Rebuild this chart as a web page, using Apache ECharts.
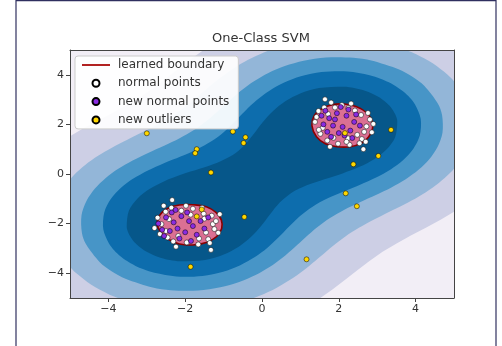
<!DOCTYPE html>
<html>
<head>
<meta charset="utf-8">
<script src="https://cdn.jsdelivr.net/npm/echarts@6/dist/echarts.min.js"></script>
<style>html,body{margin:0;padding:0;background:#fff;}#c{width:502px;height:346px;}</style>
</head>
<body>
<div id="c"></div>
<script>
// ---- data ----
const xTicks = [-4, -2, 0, 2, 4];
const yTicks = [-4, -2, 0, 2, 4];

// decision-function bands (outlines)
const cornerTopLeft = [[-5.369,1.126],[-5.028,1.493],[-4.662,1.834],[-4.279,2.157],[-3.888,2.474],[-3.505,2.799],[-3.140,3.140],[-2.799,3.505],[-2.474,3.888],[-2.157,4.279],[-1.834,4.662],[-1.493,5.028],[-1.126,5.369],[-6,6]];
const cornerBottomRight = [[5.369,-1.126],[5.028,-1.493],[4.662,-1.834],[4.279,-2.157],[3.888,-2.474],[3.505,-2.799],[3.140,-3.140],[2.799,-3.505],[2.474,-3.888],[2.157,-4.279],[1.834,-4.662],[1.493,-5.028],[1.126,-5.369],[6,-6]];
const bandC = [[4.455,4.455],[4.005,4.834],[3.800,4.968],[3.492,5.134],[3.244,5.241],[2.320,5.458],[1.617,5.454],[1.025,5.339],[0.508,5.149],[0.048,4.902],[-0.363,4.605],[-0.733,4.269],[-1.070,3.898],[-1.384,3.506],[-1.690,3.104],[-2.004,2.711],[-2.342,2.342],
 [-2.711,2.004],[-3.104,1.690],[-3.506,1.384],[-3.898,1.070],[-4.269,0.733],[-4.605,0.363],[-4.902,-0.048],[-5.149,-0.508],[-5.339,-1.025],[-5.454,-1.617],[-5.458,-2.320],[-5.241,-3.244],[-5.134,-3.492],[-4.968,-3.800],[-4.834,-4.005],[-4.455,-4.455],
 [-4.005,-4.834],[-3.800,-4.968],[-3.492,-5.134],[-3.244,-5.241],[-2.320,-5.458],[-1.617,-5.454],[-1.025,-5.339],[-0.508,-5.149],[-0.048,-4.902],[0.363,-4.605],[0.733,-4.269],[1.070,-3.898],[1.384,-3.506],[1.690,-3.104],[2.004,-2.711],[2.342,-2.342],
 [2.711,-2.004],[3.104,-1.690],[3.506,-1.384],[3.898,-1.070],[4.269,-0.733],[4.605,-0.363],[4.902,0.048],[5.149,0.508],[5.339,1.025],[5.454,1.617],[5.458,2.320],[5.241,3.244],[5.134,3.492],[4.968,3.800],[4.834,4.005]];
const bandD = [[3.918,3.918],[3.555,4.224],[2.846,4.578],[2.382,4.689],[1.664,4.700],[1.085,4.571],[0.594,4.356],[0.167,4.076],[-0.208,3.743],[-0.541,3.369],[-0.844,2.966],[-1.136,2.550],[-1.438,2.145],[-1.771,1.771],
 [-2.145,1.438],[-2.550,1.136],[-2.966,0.844],[-3.369,0.541],[-3.743,0.208],[-4.076,-0.167],[-4.356,-0.594],[-4.571,-1.085],[-4.700,-1.664],[-4.689,-2.382],[-4.578,-2.846],[-4.224,-3.555],[-3.918,-3.918],
 [-3.555,-4.224],[-2.846,-4.578],[-2.382,-4.689],[-1.664,-4.700],[-1.085,-4.571],[-0.594,-4.356],[-0.167,-4.076],[0.208,-3.743],[0.541,-3.369],[0.844,-2.966],[1.136,-2.550],[1.438,-2.145],[1.771,-1.771],
 [2.145,-1.438],[2.550,-1.136],[2.966,-0.844],[3.369,-0.541],[3.743,-0.208],[4.076,0.167],[4.356,0.594],[4.571,1.085],[4.700,1.664],[4.689,2.382],[4.578,2.846],[4.224,3.555]];
const bandE = [[3.513,3.513],[3.304,3.697],[3.084,3.845],[2.803,3.985],[2.231,4.133],[1.549,4.108],[1.012,3.938],[0.565,3.678],[0.185,3.350],[-0.142,2.971],[-0.433,2.554],[-0.706,2.120],[-0.991,1.698],[-1.317,1.317],
 [-1.698,0.991],[-2.120,0.706],[-2.554,0.433],[-2.971,0.142],[-3.350,-0.185],[-3.678,-0.565],[-3.938,-1.012],[-4.108,-1.549],[-4.133,-2.231],[-3.985,-2.803],[-3.845,-3.084],[-3.697,-3.304],[-3.513,-3.513],
 [-3.304,-3.697],[-3.084,-3.845],[-2.803,-3.985],[-2.231,-4.133],[-1.549,-4.108],[-1.012,-3.938],[-0.565,-3.678],[-0.185,-3.350],[0.142,-2.971],[0.433,-2.554],[0.706,-2.120],[0.991,-1.698],[1.317,-1.317],
 [1.698,-0.991],[2.120,-0.706],[2.554,-0.433],[2.971,-0.142],[3.350,0.185],[3.678,0.565],[3.938,1.012],[4.108,1.549],[4.133,2.231],[3.985,2.803],[3.845,3.084],[3.697,3.304]];
const bandF = [[3.074,3.074],[2.773,3.308],[2.623,3.387],[2.397,3.472],[2.134,3.523],[1.483,3.467],[0.996,3.247],[0.606,2.930],[0.289,2.540],[0.024,2.097],[-0.211,1.625],[-0.455,1.163],[-0.762,0.762],
 [-1.163,0.455],[-1.625,0.211],[-2.097,-0.024],[-2.540,-0.289],[-2.930,-0.606],[-3.247,-0.996],[-3.467,-1.483],[-3.523,-2.134],[-3.472,-2.397],[-3.387,-2.623],[-3.308,-2.773],[-3.074,-3.074],
 [-2.773,-3.308],[-2.623,-3.387],[-2.397,-3.472],[-2.134,-3.523],[-1.483,-3.467],[-0.996,-3.247],[-0.606,-2.930],[-0.289,-2.540],[-0.024,-2.097],[0.211,-1.625],[0.455,-1.163],[0.762,-0.762],
 [1.163,-0.455],[1.625,-0.211],[2.097,0.024],[2.540,0.289],[2.930,0.606],[3.247,0.996],[3.467,1.483],[3.523,2.134],[3.472,2.397],[3.387,2.623],[3.308,2.773]];

// learned boundary (two loops)
const boundaryUpper = [[1.30,1.95],[1.36,2.35],[1.55,2.62],[1.85,2.80],[2.15,2.82],[2.45,2.72],[2.70,2.50],[2.85,2.20],[2.88,1.85],[2.78,1.50],[2.60,1.25],[2.30,1.10],[1.95,1.10],[1.65,1.22],[1.42,1.50]];
const boundaryLower = [[-2.73,-2.00],[-2.66,-1.65],[-2.45,-1.38],[-2.15,-1.25],[-1.80,-1.24],[-1.45,-1.32],[-1.20,-1.55],[-1.06,-1.85],[-1.05,-2.20],[-1.18,-2.52],[-1.45,-2.76],[-1.80,-2.86],[-2.15,-2.82],[-2.45,-2.62],[-2.65,-2.32]];

// points
const normalPoints = [
 [1.64,3.01],[1.47,2.54],[2.81,2.20],[2.86,1.68],[2.64,1.00],[1.77,1.10],[2.60,1.41],[1.38,2.10],[1.52,1.62],[1.70,1.35],[1.98,1.22],[2.28,1.18],[2.48,1.58],[2.72,1.92],[2.58,2.38],[2.25,2.66],[1.90,2.68],[1.72,2.42],[2.24,1.44],[2.42,2.56],[1.58,1.86],[2.76,2.46],[1.86,1.46],[2.66,1.70],[1.48,1.78],[2.32,2.84],[2.54,1.24],[1.80,2.88],[2.70,1.30],[1.42,2.30],[2.90,2.02],[2.20,1.30],[1.62,2.68],[2.08,2.78],
 [-2.34,-1.05],[-2.51,-1.52],[-1.14,-2.37],[-1.33,-3.06],[-2.24,-2.93],[-2.31,-2.72],[-1.31,-1.68],[-1.40,-2.63],[-2.62,-2.02],[-2.42,-1.82],[-2.10,-1.48],[-1.80,-1.40],[-1.52,-1.60],[-1.28,-2.02],[-2.18,-2.50],[-2.50,-2.30],[-1.46,-2.36],[-1.96,-2.76],[-1.64,-2.60],[-2.72,-1.76],[-1.24,-2.22],[-1.86,-1.64],[-2.46,-2.56],[-1.56,-1.36],[-2.36,-1.36],[-1.20,-1.90],[-2.66,-2.42],[-1.98,-1.28],[-1.66,-2.84],[-2.56,-1.28],[-1.10,-1.62],[-1.36,-2.78],[-2.80,-2.18],[-1.50,-1.80]];
const newNormalPoints = [
 [1.75,2.25],[1.95,2.45],[2.20,2.35],[2.40,2.10],[1.60,2.00],[1.85,1.95],[2.10,1.90],[2.30,1.75],[1.70,1.70],[2.00,1.65],[2.45,2.40],[1.55,2.35],[2.25,2.60],[1.90,2.20],[2.15,1.55],[1.80,1.50],[2.55,1.95],[2.05,2.70],[1.65,2.55],[2.35,1.45],
 [-2.70,-2.00],[-2.50,-1.75],[-2.30,-1.95],[-2.10,-1.70],[-1.90,-1.90],[-2.40,-2.30],[-2.20,-2.20],[-2.00,-2.35],[-1.80,-2.10],[-1.60,-1.90],[-2.55,-2.50],[-2.35,-1.55],[-1.95,-1.55],[-1.70,-2.45],[-2.15,-2.60],[-1.50,-2.20],[-2.60,-2.25],[-1.85,-2.70],[-2.25,-1.45],[-1.40,-1.75]];
const newOutliers = [[-3.00,1.64],[-0.76,1.71],[-0.43,1.48],[-0.48,1.25],[-1.70,1.00],[-1.74,0.84],[-1.33,0.06],[3.36,1.78],[3.03,0.73],[2.38,0.39],[2.18,-0.78],[2.47,-1.30],[-0.46,-1.73],[1.16,-3.44],[-1.86,-3.74],[-1.70,-1.71],[-1.57,-1.43],[2.16,1.65]];

// ---- styles ----
const FONT = 'DejaVu Sans';
const colA = '#f2eef6', colB = '#cdcfe5', colC = '#93b6d8', colD = '#4795c7', colE = '#0d6dad', colF = '#06578a';
const pink = '#db7093', darkred = '#8b0000';
const minus = v => String(v).replace('-', '\u2212');

function polySeries(points, fill, z, smooth, stroke, lw) {
  return {
    type: 'custom', data: points, clip: true, silent: true, z: z,
    renderItem: function (params, api) {
      if (params.dataIndex !== 0) return null;
      return {
        type: 'polygon',
        shape: { points: points.map(p => api.coord(p)), smooth: smooth },
        style: { fill: fill, stroke: stroke || null, lineWidth: lw || 0 }
      };
    }
  };
}

const chart = echarts.init(document.getElementById('c'), null, { renderer: 'canvas' });
const axisCommon = { type: 'value', min: -5, max: 5, z: 10,
  splitLine: { show: false },
  axisLine: { show: true, onZero: false, lineStyle: { color: '#444', width: 1 } } };

chart.setOption({
  animation: false,
  backgroundColor: '#fff',
  title: { text: 'One-Class SVM', left: 212, top: 31, padding: 0,
    textStyle: { fontFamily: FONT, fontSize: 13, fontWeight: 'normal', color: '#333', lineHeight: 16 } },
  grid: { left: 70, top: 50, width: 384, height: 248, show: true, backgroundColor: colB, borderWidth: 0 },
  xAxis: [
    Object.assign({}, axisCommon, { position: 'bottom',
      axisTick: { show: true, length: 4, customValues: xTicks, lineStyle: { color: '#444' } },
      axisLabel: { customValues: xTicks, formatter: minus, fontFamily: FONT, fontSize: 11, color: '#333', margin: 6 } }),
    Object.assign({}, axisCommon, { position: 'top', axisTick: { show: false }, axisLabel: { show: false } })
  ],
  yAxis: [
    Object.assign({}, axisCommon, { position: 'left',
      axisTick: { show: true, length: 4, customValues: yTicks, lineStyle: { color: '#444' } },
      axisLabel: { customValues: yTicks, formatter: minus, fontFamily: FONT, fontSize: 11, color: '#333', margin: 6 } }),
    Object.assign({}, axisCommon, { position: 'right', axisTick: { show: false }, axisLabel: { show: false } })
  ],
  legend: {
    orient: 'vertical', left: 75, top: 56, itemWidth: 28, itemHeight: 7, itemGap: 6.3,
    padding: [3, 9, 3, 6], backgroundColor: 'rgba(255,255,255,0.92)', borderColor: '#cccccc', borderWidth: 1, borderRadius: 3,
    selectedMode: false, z: 20,
    textStyle: { fontFamily: FONT, fontSize: 12, color: '#333', padding: [0, 0, 0, 3] },
    data: [
      { name: 'learned boundary', itemStyle: { opacity: 0 } },
      'normal points', 'new normal points', 'new outliers'
    ]
  },
  graphic: [
    { type: 'line', shape: { x1: 16, y1: 0, x2: 16, y2: 346 }, style: { stroke: '#2f2f5f', lineWidth: 1.2 }, z: 100 },
    { type: 'line', shape: { x1: 496, y1: 0, x2: 496, y2: 346 }, style: { stroke: '#2f2f5f', lineWidth: 1.2 }, z: 100 },
    { type: 'line', shape: { x1: 16, y1: 0.6, x2: 496, y2: 0.6 }, style: { stroke: '#2f2f5f', lineWidth: 1.2 }, z: 100 }
  ],
  series: [
    polySeries(cornerTopLeft, colA, 1, 0),
    polySeries(cornerBottomRight, colA, 1, 0),
    polySeries(bandC, colC, 2, 0.3),
    polySeries(bandD, colD, 3, 0.3),
    polySeries(bandE, colE, 4, 0.3),
    polySeries(bandF, colF, 5, 0.3),
    polySeries(boundaryUpper, pink, 6, 0.4, darkred, 1.6),
    polySeries(boundaryLower, pink, 6, 0.4, darkred, 1.6),
    { name: 'learned boundary', type: 'line', data: [], symbol: 'none', lineStyle: { color: '#b22222', width: 2 }, itemStyle: { color: darkred } },
    { name: 'normal points', type: 'scatter', data: normalPoints, symbolSize: 5, z: 7, silent: true,
      itemStyle: { color: '#ffffff', borderColor: '#000', borderWidth: 0.5, opacity: 1 } },
    { name: 'new normal points', type: 'scatter', data: newNormalPoints, symbolSize: 5, z: 8, silent: true,
      itemStyle: { color: '#8a2be2', borderColor: '#000', borderWidth: 0.5, opacity: 1 } },
    { name: 'new outliers', type: 'scatter', data: newOutliers, symbolSize: 5, z: 9, silent: true,
      itemStyle: { color: '#ffd700', borderColor: '#000', borderWidth: 0.5, opacity: 1 } }
  ]
});
</script>
</body>
</html>
